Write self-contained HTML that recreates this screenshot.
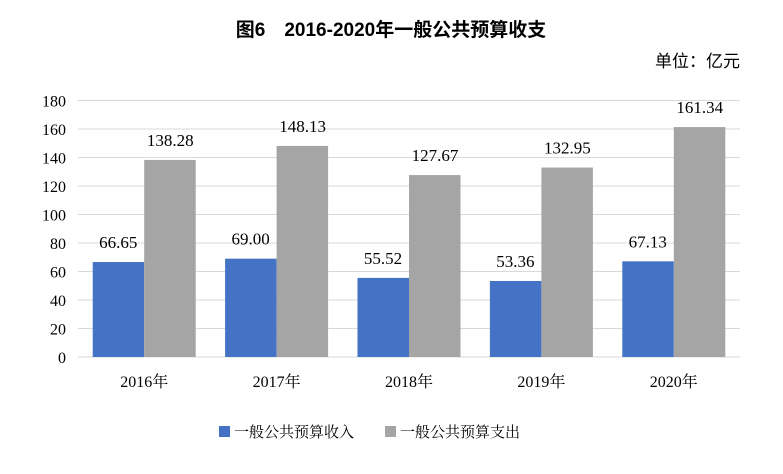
<!DOCTYPE html>
<html><head><meta charset="utf-8"><style>
body{margin:0;background:#fff;width:783px;height:469px;overflow:hidden}
svg text{font-family:"Liberation Serif","Noto Serif CJK SC",serif}
</style></head><body>
<svg width="783" height="469">
<text x="391" y="36" text-anchor="middle" font-size="19" font-weight="bold" style="font-family:'Liberation Sans','Noto Sans CJK SC',sans-serif">图6　2016-2020年一般公共预算收支</text>
<text x="740" y="67" text-anchor="end" font-size="17" style="font-family:'Liberation Sans','Noto Sans CJK SC',sans-serif">单位：亿元</text>
<g id="grid"></g><g id="bars"></g><g id="labels"></g>
<g>
<rect x="219" y="426" width="11" height="11" fill="#4472c4"/>
<text x="234" y="437" font-size="15">一般公共预算收入</text>
<rect x="385" y="426" width="11" height="11" fill="#a5a5a5"/>
<text x="400" y="437" font-size="15">一般公共预算支出</text>
</g>
</svg>
<script>
const categories=["2016年","2017年","2018年","2019年","2020年"];
const income=[66.65,69.00,55.52,53.36,67.13];
const expense=[138.28,148.13,127.67,132.95,161.34];
const ticks=[0,20,40,60,80,100,120,140,160,180];
const NS="http://www.w3.org/2000/svg";
const x0=78,x1=740,y0=357,y1=100.5,ymax=180;
const y=v=>y0-(v/ymax)*(y0-y1);
const bw=(x1-x0)/categories.length;
const grid=document.getElementById('grid'),bars=document.getElementById('bars'),labels=document.getElementById('labels');
function mk(tag,attrs,parent,txt){const e=document.createElementNS(NS,tag);for(const k in attrs)e.setAttribute(k,attrs[k]);if(txt!=null)e.textContent=txt;parent.appendChild(e);return e;}
ticks.forEach(t=>{
 const l=mk('line',{x1:x0,x2:x1,y1:y(t),y2:y(t),stroke:'#d9d9d9','stroke-width':1},grid);
 
 
 const tx=mk('text',{x:66,y:y(t)+6,'text-anchor':'end','font-size':16},grid,t);
 
 
});
categories.forEach((c,i)=>{
 const cx=x0+bw*(i+0.5);
 const b1=mk('rect',{x:cx-51.5,y:y(income[i]),width:51.5,height:y0-y(income[i]),fill:'#4472c4'},bars);
 
 
 const b2=mk('rect',{x:cx,y:y(expense[i]),width:51.5,height:y0-y(expense[i]),fill:'#a5a5a5'},bars);
 
 
 const l1=mk('text',{x:cx-26,y:y(income[i])-14,'text-anchor':'middle','font-size':17},labels,income[i].toFixed(2));
 
 
 const l2=mk('text',{x:cx+26,y:y(expense[i])-14,'text-anchor':'middle','font-size':17},labels,expense[i].toFixed(2));
 
 
 const xl=mk('text',{x:cx,y:387,'text-anchor':'middle','font-size':16},labels,c);
 
 
});
</script>
</body></html>
